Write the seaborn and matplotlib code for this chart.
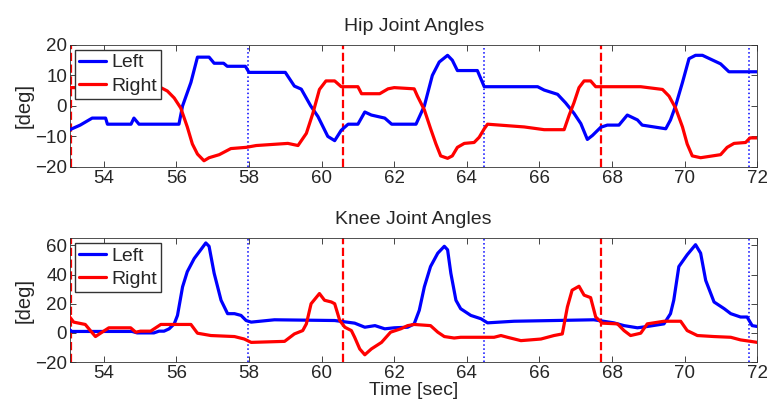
import numpy as np
import pandas as pd
import matplotlib
matplotlib.use("Agg")
import matplotlib.pyplot as plt
import seaborn as sns

# hip joint angles [deg]
hip_left_t = [53.03, 53.35, 53.68, 54.05, 54.1, 54.75, 54.83, 54.97, 56.07, 56.17, 56.4, 56.58,
              56.9, 57.04, 57.3, 57.4, 57.9, 58.0, 59.0, 59.25, 59.44, 59.7, 59.9, 60.17, 60.36,
              60.54, 60.73, 61.0, 61.19, 61.37, 61.74, 61.93, 62.6, 62.83, 63.05, 63.24, 63.47,
              63.6, 63.74, 64.29, 64.48, 65.95, 66.13, 66.5, 66.72, 66.95, 67.14, 67.32, 67.46,
              67.69, 67.87, 68.19, 68.42, 68.7, 68.83, 69.48, 69.61, 69.75, 69.94, 70.12, 70.3,
              70.49, 70.99, 71.22, 72.0]
hip_left_v = [-8, -6.3, -4, -4, -6, -6, -4, -6, -6, 0, 7.7, 16,
              16, 14, 14, 13, 13, 11, 11, 6.5, 5.5, 0, -3.5, -10, -11.4,
              -8, -6, -6, -2, -3, -4, -6, -6, 0, 10, 14.4, 16.6,
              15, 11.6, 11.6, 6.3, 6.3, 5.2, 3.8, 1, -2.4, -5.8, -11, -9.7,
              -7, -6.3, -6.3, -3, -4.6, -6.3, -7.5, -4.6, 0, 7.7, 15.5, 16.6,
              16.6, 13.8, 11.2, 11.2]
hip_right_t = [53.03, 55.57, 55.75, 55.94, 56.12, 56.3, 56.44, 56.58, 56.76, 56.9, 57.18, 57.5,
               57.92, 58.2, 59.07, 59.35, 59.58, 59.76, 59.94, 60.12, 60.36, 60.54, 61.0, 61.1,
               61.6, 61.83, 62.0, 62.55, 62.64, 62.83, 63.0, 63.15, 63.28, 63.47, 63.6, 63.74,
               63.93, 64.2, 64.34, 64.48, 64.57, 65.58, 66.13, 66.68, 66.82, 66.95, 67.09, 67.23,
               67.41, 67.55, 68.79, 69.39, 69.57, 69.75, 69.94, 70.07, 70.21, 70.44, 70.99, 71.17,
               71.36, 71.68, 71.8, 72.0]
hip_right_v = [6, 6, 4.9, 2.6, -0.7, -6.9, -12.5, -15.8, -18, -17, -16, -14,
               -13.6, -13, -12.3, -13, -9, -2.4, 5.4, 8.2, 8.2, 6.3, 6.3, 4,
               4, 5.6, 6, 5.6, 3.2, -1.3, -7.4, -12.5, -16.4, -17.2, -16.4, -13.6,
               -12.3, -12, -10.3, -7.5, -6, -6.9, -7.8, -7.8, -3, 1, 6, 8.2,
               8.2, 6.3, 6.3, 5.4, 3.2, -0.7, -6.9, -12.5, -16.4, -17, -16, -13.6,
               -12.3, -12, -10.5, -10.5]

# knee joint angles [deg]
knee_left_t = [53.03, 53.12, 54.78, 54.92, 55.38, 55.52, 55.66, 55.8, 55.94, 56.03, 56.17, 56.3,
               56.49, 56.67, 56.81, 56.9, 57.04, 57.23, 57.41, 57.6, 57.78, 57.92, 58.06, 58.7,
               60.36, 60.91, 61.19, 61.47, 61.74, 62.0, 62.37, 62.55, 62.69, 62.83, 63.0, 63.2,
               63.38, 63.47, 63.56, 63.7, 63.83, 64.11, 64.39, 64.57, 65.3, 67.5, 68.05, 68.33,
               68.7, 68.97, 69.43, 69.61, 69.7, 69.84, 70.07, 70.3, 70.44, 70.58, 70.81, 71.09,
               71.27, 71.54, 71.72, 71.86, 72.0]
knee_left_v = [2.8, 1, 1, 0, 0, 1.2, 1.2, 2.8, 6.2, 12, 31.6, 42,
               51, 57, 61.7, 59.4, 40.9, 22.4, 13.2, 13.2, 12, 8.5, 7.4, 9,
               8.5, 6.7, 3.9, 5, 2.8, 3.5, 3.9, 6.2, 15.5, 31.6, 45.5, 54.7,
               59.4, 57, 40.9, 22.4, 16.6, 12, 9.7, 6.9, 8, 9, 6.9, 5,
               3.5, 4.4, 6.2, 13.2, 22.4, 45.5, 53.6, 60.5, 54.7, 36, 21.2, 16.6,
               13.2, 10.9, 10.9, 5, 4.4]
knee_right_t = [53.03, 53.17, 53.49, 53.63, 53.77, 53.91, 54.14, 54.74, 54.88, 55.01, 55.29, 55.57,
                56.4, 56.58, 56.95, 57.6, 57.87, 58.06, 58.98, 59.25, 59.48, 59.58, 59.71, 59.94,
                60.08, 60.27, 60.36, 60.5, 60.64, 60.82, 60.91, 61.05, 61.19, 61.37, 61.65, 61.9,
                62.18, 62.37, 62.55, 63.0, 63.2, 63.38, 63.65, 63.83, 64.75, 64.94, 65.12, 65.49,
                66.04, 66.4, 66.63, 66.77, 66.9, 67.09, 67.23, 67.41, 67.55, 67.73, 68.15, 68.33,
                68.51, 68.79, 68.97, 69.43, 69.89, 70.07, 70.35, 70.81, 71.27, 71.54, 71.82, 72.0]
knee_right_v = [12, 7.4, 5.8, 1.6, -2.5, -0.2, 3.5, 3.5, 0.5, 1.2, 1.2, 5.8,
                5.8, -0.2, -1.8, -2.5, -4.2, -6.5, -5.8, -0.7, 1.6, 6.2, 20, 27,
                22.4, 21.2, 20, 8.5, 3.9, 1.6, -3, -11, -15, -11, -6.5, 0.5,
                2.8, 5, 5.8, 5, 0.5, -2.5, -3.5, -3, -3, -1.8, -3, -5.3,
                -4.2, -1.8, -0.7, 17.8, 29.3, 32, 25.9, 24.2, 10.9, 6.7, 6.2, 1.6,
                -1.8, -0.2, 6.2, 8, 8, 1.6, -1.8, -2.5, -3, -4.8, -5.8, -6.5]

# event markers [sec]
right_events = [53.11, 60.59, 67.69]
left_events = [57.96, 64.46, 71.77]


def to_frame(left_t, left_v, right_t, right_v):
    left = pd.DataFrame({"time": left_t, "angle": left_v, "side": "Left"})
    right = pd.DataFrame({"time": right_t, "angle": right_v, "side": "Right"})
    return pd.concat([left, right], ignore_index=True)


sns.set_style("ticks")
plt.rcParams["font.family"] = ["Liberation Sans", "DejaVu Sans"]

fig = plt.figure(figsize=(7.67, 4.05), dpi=100)
ax_hip = fig.add_axes([0.0913, 0.588, 0.896, 0.301])
ax_knee = fig.add_axes([0.0913, 0.106, 0.896, 0.306])

panels = [
    (ax_hip, to_frame(hip_left_t, hip_left_v, hip_right_t, hip_right_v),
     "Hip Joint Angles", (-20, 20), [-20, -10, 0, 10, 20]),
    (ax_knee, to_frame(knee_left_t, knee_left_v, knee_right_t, knee_right_v),
     "Knee Joint Angles", (-20, 65), [-20, 0, 20, 40, 60]),
]

for ax, df, title, ylim, yticks in panels:
    for x in right_events:
        ax.axvline(x, color="red", ls="--", lw=1.6, zorder=1)
    for x in left_events:
        ax.axvline(x, color="blue", ls=":", lw=1.1, zorder=1)
    sns.lineplot(data=df, x="time", y="angle", hue="side",
                 palette={"Left": "blue", "Right": "red"},
                 estimator=None, sort=False, lw=2.3, ax=ax, zorder=3)
    ax.set_xlim(53.07, 72)
    ax.set_ylim(*ylim)
    ax.set_yticks(yticks)
    ax.set_xticks(range(54, 73, 2))
    ax.tick_params(direction="in", top=True, right=True, length=4,
                   labelsize=13.5, width=0.6, pad=2)
    for s in ax.spines.values():
        s.set_linewidth(0.6)
        s.set_color("#333333")
    ax.set_title(title, fontsize=14, pad=10)
    ax.set_ylabel("[deg]", fontsize=14.5, labelpad=1)
    ax.set_xlabel("")
    ax.legend(loc="upper left", fontsize=14, frameon=True, fancybox=False,
              edgecolor="#333333", framealpha=1, borderaxespad=0.25,
              handlelength=1.4, handletextpad=0.3, borderpad=0.2,
              labelspacing=0.3)

ax_knee.set_xlabel("Time [sec]", fontsize=14, labelpad=0)

fig.savefig("out.png", dpi=100)
